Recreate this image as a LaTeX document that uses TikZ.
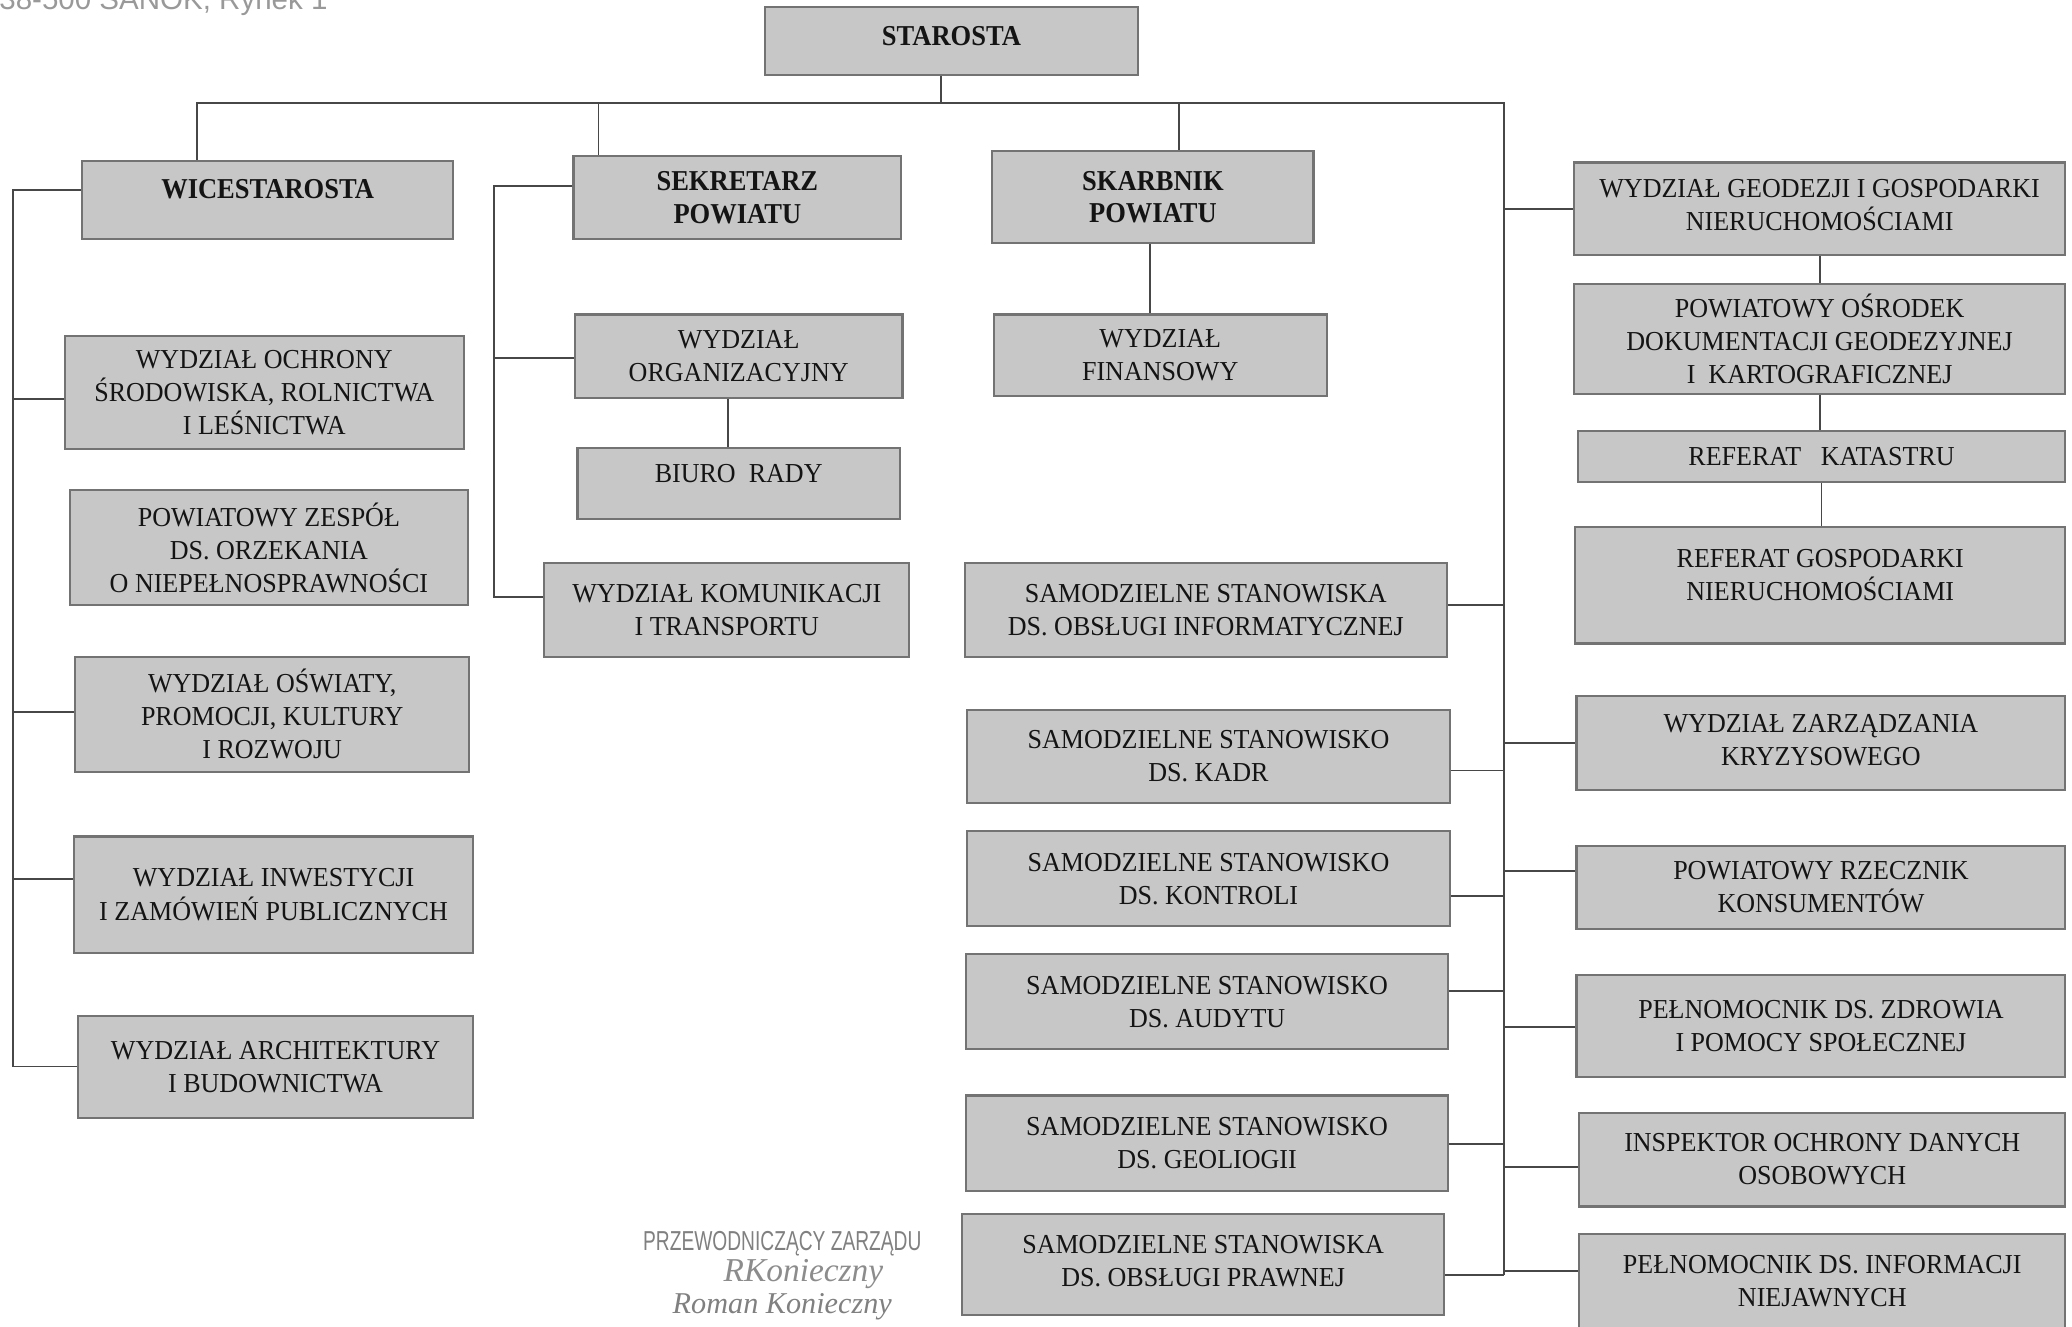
\documentclass[tikz,border=0pt]{standalone}
\usepackage{fontspec}
\setmainfont{Liberation Serif}
\newfontfamily\boxfnt{Liberation Serif}[FakeStretch=0.95]
\newfontfamily\hdfnt{Liberation Serif}[FakeStretch=0.92]
\newfontfamily\sigfnt{Liberation Sans}[FakeStretch=0.7]
\newfontfamily\addrfnt{Liberation Sans}
\newcommand\orgbox[7][]{%
  \node[box, minimum width={(#5-#3)*0.013214cm}, minimum height={(#6-#4)*0.013214cm}] (#2) at ({(#3+#5)/2},{(#4+#6)/2}) {};
  \node[boxtext,#1] (#2-t) at (#2.center) {#7};}
\begin{document}
\begin{tikzpicture}[x=0.013214cm,y=-0.013214cm,
  box/.style={draw=black!55,fill=black!22,line width=0.6pt,inner sep=0pt},
  boxtext/.style={align=center,text=black!92,inner sep=0pt,font=\boxfnt\fontsize{7.8}{9.4}\selectfont},
  hd/.style={font=\hdfnt\bfseries\fontsize{8.2}{9.2}\selectfont},
  conn/.style={draw=black!72,line width=0.5pt}]
\useasboundingbox (0,0) rectangle (1568,1004);
\clip (0,0) rectangle (1568,1004);

% boxes
\orgbox[hd,yshift=1.5pt]{staro}{579}{5}{861}{57}{STAROSTA}
\orgbox[hd,yshift=3pt]{wice}{62}{122}{343}{181}{WICESTAROSTA}
\orgbox[hd]{sek}{434}{118}{682}{181}{SEKRETARZ\\POWIATU}
\orgbox[hd]{skarb}{751}{114}{994}{184}{SKARBNIK\\POWIATU}
\orgbox[yshift=1pt]{geo}{1191}{123}{1563}{193}{WYDZIAŁ GEODEZJI I GOSPODARKI\\NIERUCHOMOŚCIAMI}
\orgbox{ochr}{49}{254}{351}{340}{WYDZIAŁ OCHRONY\\ŚRODOWISKA, ROLNICTWA\\I LEŚNICTWA}
\orgbox{org}{435}{238}{683}{301}{WYDZIAŁ\\ORGANIZACYJNY}
\orgbox{fin}{752}{238}{1004}{300}{WYDZIAŁ\\FINANSOWY}
\orgbox{osr}{1191}{215}{1563}{298}{POWIATOWY OŚRODEK\\DOKUMENTACJI GEODEZYJNEJ\\I\ \ KARTOGRAFICZNEJ}
\orgbox[yshift=3pt]{biuro}{437}{339}{681}{393}{BIURO\ \ RADY}
\orgbox{kat}{1194}{326}{1563}{365}{REFERAT\ \ \ KATASTRU}
\orgbox{zesp}{53}{371}{354}{458}{POWIATOWY ZESPÓŁ\\DS. ORZEKANIA\\O NIEPEŁNOSPRAWNOŚCI}
\orgbox[yshift=3pt]{gosp}{1192}{399}{1563}{487}{REFERAT GOSPODARKI\\NIERUCHOMOŚCIAMI}
\orgbox{kom}{412}{426}{688}{497}{WYDZIAŁ KOMUNIKACJI\\I TRANSPORTU}
\orgbox{info}{730}{426}{1095}{497}{SAMODZIELNE STANOWISKA\\DS. OBSŁUGI INFORMATYCZNEJ}
\orgbox{oswi}{57}{497}{355}{584}{WYDZIAŁ OŚWIATY,\\PROMOCJI, KULTURY\\I ROZWOJU}
\orgbox{kadr}{732}{537}{1097}{608}{SAMODZIELNE STANOWISKO\\DS. KADR}
\orgbox[yshift=1pt]{kryz}{1193}{527}{1563}{598}{WYDZIAŁ ZARZĄDZANIA\\KRYZYSOWEGO}
\orgbox{kontr}{732}{629}{1097}{701}{SAMODZIELNE STANOWISKO\\DS. KONTROLI}
\orgbox{rzecz}{1193}{640}{1563}{703}{POWIATOWY RZECZNIK\\KONSUMENTÓW}
\orgbox{inw}{56}{633}{358}{721}{WYDZIAŁ INWESTYCJI\\I ZAMÓWIEŃ PUBLICZNYCH}
\orgbox{aud}{731}{722}{1096}{794}{SAMODZIELNE STANOWISKO\\DS. AUDYTU}
\orgbox{zdr}{1193}{738}{1563}{815}{PEŁNOMOCNIK DS. ZDROWIA\\I POMOCY SPOŁECZNEJ}
\orgbox{arch}{59}{769}{358}{846}{WYDZIAŁ ARCHITEKTURY\\I BUDOWNICTWA}
\orgbox{geol}{731}{829}{1096}{901}{SAMODZIELNE STANOWISKO\\DS. GEOLIOGII}
\orgbox{insp}{1195}{842}{1563}{913}{INSPEKTOR OCHRONY DANYCH\\OSOBOWYCH}
\orgbox[yshift=1pt]{praw}{728}{919}{1093}{995}{SAMODZIELNE STANOWISKA\\DS. OBSŁUGI PRAWNEJ}
\orgbox[yshift=1pt]{niej}{1195}{934}{1563}{1010}{PEŁNOMOCNIK DS. INFORMACJI\\NIEJAWNYCH}

% top bus
\coordinate (sj) at (712,78);
\coordinate (busL) at (149,78);
\coordinate (busR) at (1138,78);
\coordinate (sekj) at (453,78);
\coordinate (skj) at (892,78);
\coordinate (trEnd) at (1138,965);
\draw[conn] (sj |- staro.south) -- (sj);
\draw[conn] (busL |- wice.north) -- (busL) -- (busR) -- (trEnd);
\draw[conn] (sekj) -- (sekj |- sek.north);
\draw[conn] (skj) -- (skj |- skarb.north);

% left bracket (wicestarosta)
\coordinate (wt) at (10,144);
\coordinate (wb) at (10,807);
\draw[conn] (wt -| wice.west) -- (wt) -- (wb) -- (wb -| arch.west);
\coordinate (w1) at (10,302);
\coordinate (w2) at (10,539);
\coordinate (w3) at (10,665);
\draw[conn] (w1) -- (w1 -| ochr.west);
\draw[conn] (w2) -- (w2 -| oswi.west);
\draw[conn] (w3) -- (w3 -| inw.west);

% sekretarz bracket
\coordinate (st) at (374,141);
\coordinate (sb) at (374,452);
\draw[conn] (st -| sek.west) -- (st) -- (sb) -- (sb -| kom.west);
\coordinate (s1) at (374,271);
\draw[conn] (s1) -- (s1 -| org.west);
\coordinate (oj) at (551,301);
\draw[conn] (oj |- org.south) -- (oj |- biuro.north);

% skarbnik
\coordinate (fj) at (870,184);
\draw[conn] (fj |- skarb.south) -- (fj |- fin.north);

% right chain
\draw[conn] (geo.south) -- (geo.south |- osr.north);
\draw[conn] (osr.south) -- (osr.south |- kat.north);
\draw[conn] (kat.south) -- (kat.south |- gosp.north);

% trunk branches
\coordinate (t1) at (1138,458);
\coordinate (t2) at (1138,583);
\coordinate (t3) at (1138,678);
\coordinate (t4) at (1138,750);
\coordinate (t5) at (1138,866);
\draw[conn] (t1 -| info.east) -- (t1);
\draw[conn] (t2 -| kadr.east) -- (t2);
\draw[conn] (t3 -| kontr.east) -- (t3);
\draw[conn] (t4 -| aud.east) -- (t4);
\draw[conn] (t5 -| geol.east) -- (t5);
\draw[conn] (trEnd -| praw.east) -- (trEnd);
\coordinate (r0) at (1138,158);
\coordinate (r1) at (1138,562);
\coordinate (r2) at (1138,659);
\coordinate (r3) at (1138,777);
\coordinate (r4) at (1138,883);
\coordinate (r5) at (1138,962);
\draw[conn] (r0) -- (r0 -| geo.west);
\draw[conn] (r1) -- (r1 -| kryz.west);
\draw[conn] (r2) -- (r2 -| rzecz.west);
\draw[conn] (r3) -- (r3 -| zdr.west);
\draw[conn] (r4) -- (r4 -| insp.west);
\draw[conn] (r5) -- (r5 -| niej.west);

% loose texts
\node[font=\addrfnt\fontsize{8.4}{10}\selectfont, text=black!40, anchor=base west, inner sep=0pt] (addr) at (-1,7) {38-500 SANOK, Rynek 1};
\node[font=\sigfnt\fontsize{7.8}{9}\selectfont, text=black!50, anchor=base, inner sep=0pt] (przew) at (592,946) {PRZEWODNICZĄCY ZARZĄDU};
\node[font=\itshape\fontsize{9.5}{11}\selectfont, text=black!45, anchor=base, inner sep=0pt] (sig) at (608,970) {RKonieczny};
\node[font=\itshape\fontsize{8.6}{10}\selectfont, text=black!50, anchor=base, inner sep=0pt] (roman) at (592,994) {Roman Konieczny};
\end{tikzpicture}
\end{document}
